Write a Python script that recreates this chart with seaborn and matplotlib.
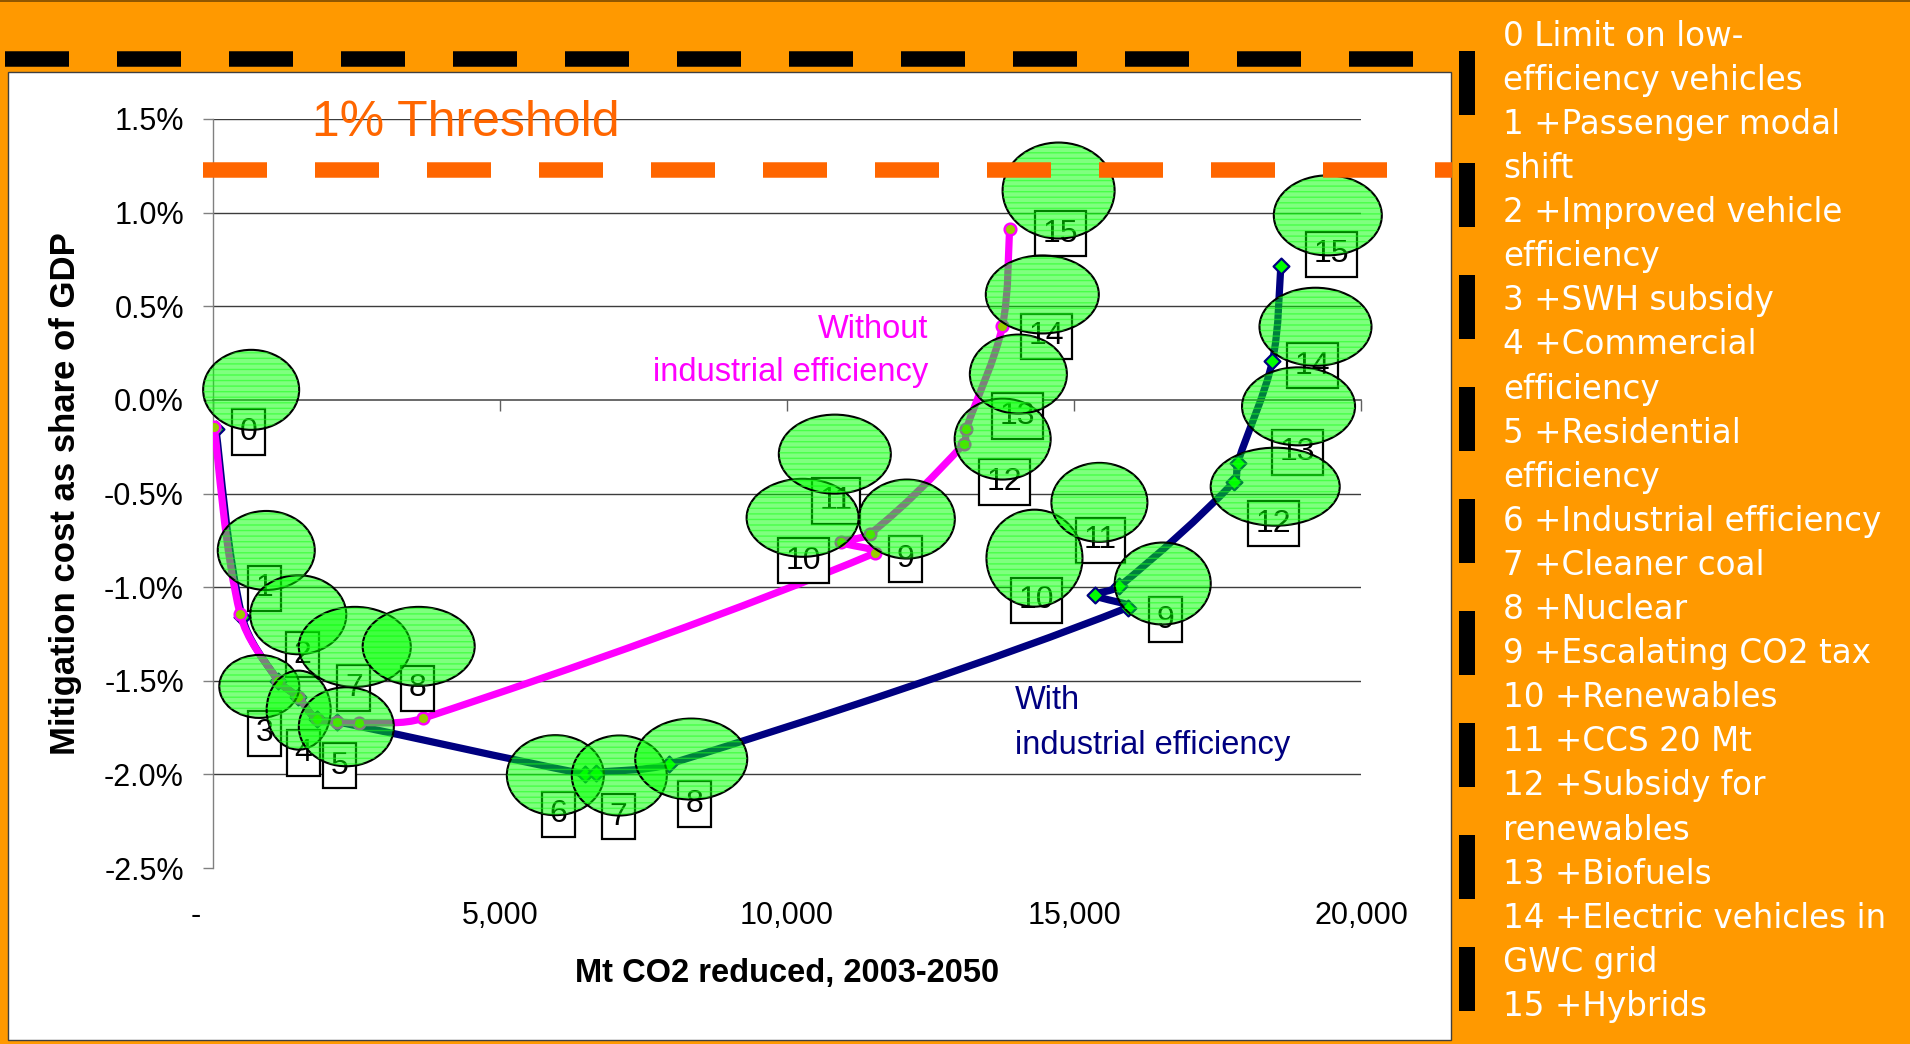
import numpy as np
import pandas as pd
import matplotlib
matplotlib.use("Agg")
import matplotlib.pyplot as plt
import seaborn as sns
from matplotlib.path import Path
from matplotlib.patches import PathPatch, Ellipse, Rectangle
from matplotlib.lines import Line2D
import matplotlib.transforms as mtransforms

# ---------------- data ----------------
measures = [
    "Limit on low-\nefficiency vehicles",
    "+Passenger modal\nshift",
    "+Improved vehicle\nefficiency",
    "+SWH subsidy",
    "+Commercial\nefficiency",
    "+Residential\nefficiency",
    "+Industrial efficiency",
    "+Cleaner coal",
    "+Nuclear",
    "+Escalating CO2 tax",
    "+Renewables",
    "+CCS 20 Mt",
    "+Subsidy for\nrenewables",
    "+Biofuels",
    "+Electric vehicles in\nGWC grid",
    "+Hybrids",
]

# cumulative package without measure 6 (industrial efficiency)
without_steps = [0, 1, 2, 3, 4, 5, 7, 8, 9, 10, 11, 12, 13, 14, 15]
without_co2 = [20, 475, 1137, 1486, 1806, 2166, 2540, 3653,
               11530, 10934, 11443, 13078, 13125, 13751, 13878]
without_cost = [-0.144, -1.146, -1.500, -1.589, -1.705, -1.719, -1.725, -1.701,
                -0.818, -0.758, -0.717, -0.236, -0.156, 0.392, 0.915]

# cumulative package with industrial efficiency
with_steps = list(range(16))
with_co2 = [50, 510, 1137, 1486, 1806, 2166, 6487, 6678, 7948,
            15936, 15374, 15791, 17791, 17849, 18458, 18603]
with_cost = [-0.156, -1.160, -1.500, -1.589, -1.705, -1.719, -1.999, -1.990, -1.945,
             -1.109, -1.043, -0.996, -0.437, -0.339, 0.209, 0.713]

x_ticks = [0, 5000, 10000, 15000, 20000]
x_tick_labels = ["-", "5,000", "10,000", "15,000", "20,000"]
y_ticks = [-2.5, -2.0, -1.5, -1.0, -0.5, 0.0, 0.5, 1.0, 1.5]
grid_levels = [-2.0, -1.5, -1.0, -0.5, 0.5, 1.0, 1.5]

# ---------------- layout of the step callouts (pixels: right, down) ----------------
without_box = {0: (34, 5), 1: (24, -26), 2: (24, -26), 3: (-34, 36), 4: (-13, 34),
               5: (2, 44), 7: (-5, -35), 8: (-5, -30), 9: (31, 6), 10: (-37, 19),
               11: (-34, -33), 12: (41, 38), 13: (51, -13), 14: (44, 10), 15: (51, 5)}
without_ring = {0: (37, -37, 96, 80), 1: (26, -64, 97, 79), 2: (20, -66, 96, 79),
                3: (-39, -11, 80, 63), 4: (-18, -9, 64, 79), 5: (9, 5, 95, 79),
                7: (-4, -76, 112, 80), 8: (-4, -72, 112, 79), 9: (32, -34, 96, 79),
                10: (-38, -24, 112, 78), 11: (-35, -80, 112, 79), 12: (39, -5, 96, 81),
                13: (52, -55, 97, 79), 14: (40, -32, 113, 78), 15: (49, -38, 112, 96)}
with_box = {6: (-27, 40), 7: (22, 44), 8: (25, 40), 9: (38, 12), 10: (-59, 5),
            11: (-19, -46), 12: (39, 42), 13: (60, -11), 14: (40, 5), 15: (51, -12)}
with_ring = {6: (-30, 1, 97, 80), 7: (23, 3, 95, 80), 8: (22, -5, 112, 81),
             9: (35, -24, 96, 82), 10: (-61, -37, 96, 97), 11: (-20, -84, 96, 79),
             12: (41, 5, 129, 78), 13: (61, -57, 113, 78), 14: (43, -34, 112, 78),
             15: (47, -51, 108, 80)}

ORANGE_BG = "#FF9900"
THRESH = "#FF6600"
MAGENTA = "#FF00FF"
NAVY = "#000080"

# ---------------- style ----------------
sns.set_theme(style="white")
plt.rcParams["font.family"] = ["Liberation Sans", "DejaVu Sans"]
plt.rcParams["lines.scale_dashes"] = False
plt.rcParams["hatch.linewidth"] = 1.0

W, H, DPI = 1910, 1044, 100
fig = plt.figure(figsize=(W / DPI, H / DPI), dpi=DPI)
fig.patch.set_facecolor(ORANGE_BG)


def fx(px):
    return px / W


def fy(py):
    return 1 - py / H


# white chart area
fig.add_artist(Rectangle((fx(8), fy(1040)), fx(1451) - fx(8), fy(72) - fy(1040),
                         transform=fig.transFigure, facecolor="white",
                         edgecolor="#404040", lw=1.0, zorder=-5))

AX_L, AX_R, AX_T, AX_B = 213, 1361, 119, 868
ax = fig.add_axes([fx(AX_L), fy(AX_B), fx(AX_R) - fx(AX_L), fy(AX_T) - fy(AX_B)])
ax.set_facecolor("none")
XLIM, YLIM = (0, 20000), (-2.5, 1.5)


def smooth_path(xs, ys):
    """Smoothed line through the points: cubic Bezier segments whose tangents are
    scaled by the neighbouring segment lengths (measured on screen)."""
    pts = np.column_stack([xs, ys]).astype(float)
    scale = np.array([(AX_R - AX_L) / (XLIM[1] - XLIM[0]),
                      (AX_B - AX_T) / (YLIM[1] - YLIM[0])])
    n = len(pts)
    ext = np.vstack([pts[0], pts, pts[-1]])
    seg = np.linalg.norm(np.diff(pts, axis=0) * scale, axis=1)
    seg_ext = np.concatenate([[seg[0]], seg, [seg[-1]]])
    verts, codes = [pts[0]], [Path.MOVETO]
    for i in range(n - 1):
        p0, p1, p2, p3 = ext[i], ext[i + 1], ext[i + 2], ext[i + 3]
        d01, d12, d23 = seg_ext[i], seg_ext[i + 1], seg_ext[i + 2]
        f1 = d12 / (d01 + d12) if (d01 + d12) > 0 else 0.5
        f2 = d12 / (d12 + d23) if (d12 + d23) > 0 else 0.5
        c1 = p1 + (p2 - p0) * f1 / 3
        c2 = p2 - (p3 - p1) * f2 / 3
        verts += [c1, c2, p2]
        codes += [Path.CURVE4] * 3
    return Path(verts, codes)


# gridlines
for v in grid_levels:
    ax.axhline(v, color="#3c3c3c", lw=1.0, zorder=1)

# series lines and markers
ax.add_patch(PathPatch(smooth_path(with_co2, with_cost), facecolor="none",
                       edgecolor=NAVY, lw=5.2, zorder=2, capstyle="round",
                       joinstyle="round"))
df_with = pd.DataFrame({"co2": with_co2, "cost": with_cost})
sns.scatterplot(data=df_with, x="co2", y="cost", marker="D", s=65, color="#00FF00",
                edgecolor=NAVY, linewidth=1.6, ax=ax, zorder=3, legend=False)

ax.add_patch(PathPatch(smooth_path(without_co2, without_cost), facecolor="none",
                       edgecolor=MAGENTA, lw=5.2, zorder=4, capstyle="round",
                       joinstyle="round"))
df_without = pd.DataFrame({"co2": without_co2, "cost": without_cost})
sns.scatterplot(data=df_without, x="co2", y="cost", marker="o", s=70, color="#99CC00",
                edgecolor=MAGENTA, linewidth=1.8, ax=ax, zorder=5, legend=False)


def callouts(steps, xs, ys, boxes, rings):
    for st, x, y in zip(steps, xs, ys):
        if st in boxes:
            dx, dy = boxes[st]
            ax.annotate(str(st), xy=(x, y), xytext=(dx, -dy), textcoords="offset pixels",
                        ha="center", va="center", fontsize=23, color="black", zorder=6,
                        annotation_clip=False,
                        bbox=dict(boxstyle="square,pad=0.24", fc="white", ec="black", lw=1.6))
        if st in rings:
            dx, dy, w, h = rings[st]
            tr = fig.dpi_scale_trans + mtransforms.ScaledTranslation(x, y, ax.transData)
            ax.add_patch(Ellipse((dx / DPI, -dy / DPI), w / DPI, h / DPI, transform=tr,
                                 facecolor=(0, 1, 0, 0.5), edgecolor="black", lw=1.5,
                                 zorder=7, clip_on=False))
            ax.add_patch(Ellipse((dx / DPI, -dy / DPI), w / DPI, h / DPI, transform=tr,
                                 fill=False, edgecolor=(0.1, 1, 0.1, 0.55), lw=0,
                                 hatch="---", zorder=7.1, clip_on=False))


callouts(with_steps, with_co2, with_cost, with_box, with_ring)
callouts(without_steps, without_co2, without_cost, without_box, without_ring)

# axes
ax.set_xlim(*XLIM)
ax.set_ylim(*YLIM)
for s in ("top", "right"):
    ax.spines[s].set_visible(False)
ax.spines["left"].set_color("#808080")
ax.spines["left"].set_linewidth(1.0)
ax.spines["bottom"].set_position(("data", 0))
ax.spines["bottom"].set_color("#505050")
ax.spines["bottom"].set_linewidth(1.2)

ax.set_yticks(y_ticks)
ax.set_yticklabels([f"{v:.1f}%" for v in y_ticks])
ax.tick_params(axis="y", direction="out", length=7.2, width=1, color="#808080",
               labelsize=22, pad=13.7, labelcolor="black", left=True)
ax.set_xticks(x_ticks)
ax.tick_params(axis="x", direction="out", length=8, width=1, color="#606060",
               labelbottom=False, bottom=True)

sec = ax.secondary_xaxis("bottom")
sec.set_xticks(x_ticks, labels=x_tick_labels)
sec.tick_params(length=0, labelsize=22, pad=24, labelcolor="black")
sec.spines["bottom"].set_visible(False)
zero_lbl = sec.get_xticklabels()[0]
zero_lbl.set_transform(zero_lbl.get_transform()
                       + mtransforms.ScaledTranslation(-0.17, 0, fig.dpi_scale_trans))

ax.set_ylabel("Mitigation cost as share of GDP", fontsize=25, fontweight="bold",
              color="black")
ax.yaxis.set_label_coords((82 - AX_L) / (AX_R - AX_L), 0.5)
ax.set_xlabel("Mt CO2 reduced, 2003-2050", fontsize=23.5, fontweight="bold",
              color="black")
ax.xaxis.set_label_coords(0.5, (AX_B - 958) / (AX_B - AX_T))

# series captions
fig.text(fx(928), fy(338), "Without", ha="right", va="baseline", color=MAGENTA, fontsize=23.5)
fig.text(fx(928), fy(381), "industrial efficiency", ha="right", va="baseline",
         color=MAGENTA, fontsize=23.5)
fig.text(fx(1015), fy(709), "With", ha="left", va="baseline", color=NAVY, fontsize=23.5)
fig.text(fx(1015), fy(754), "industrial efficiency", ha="left", va="baseline",
         color=NAVY, fontsize=23.5)


# dashed frame and threshold
def dashed(xs, ys, color, lw_px, z):
    ln = Line2D([fx(v) for v in xs], [fy(v) for v in ys], transform=fig.transFigure,
                color=color, lw=lw_px * 0.72, dash_capstyle="butt",
                linestyle=(0, (64 * 0.72, 48 * 0.72)), zorder=z)
    fig.add_artist(ln)


dashed([203, 1452], [169.5, 169.5], THRESH, 15.5, 9)
dashed([5.4, 1470], [59, 59], "black", 15.5, 10)
dashed([1467, 1467], [51, 1050], "black", 16, 10)
dashed([-3.5, -3.5], [-15, 1050], "black", 16, 10)
fig.add_artist(Line2D([0, 1], [fy(0.8), fy(0.8)], transform=fig.transFigure,
                      color="#7a4a00", lw=1.2, zorder=11))

fig.text(fx(312), fy(136.5), "1% Threshold", color=THRESH, fontsize=36,
         ha="left", va="baseline", zorder=11)

# step legend on the right
legend_lines = []
for i, m in enumerate(measures):
    parts = m.split("\n")
    legend_lines.append(f"{i} {parts[0]}")
    legend_lines.extend(parts[1:])
for k, line in enumerate(legend_lines):
    fig.text(fx(1503), fy(45.7 + k * 44.1), line, color="white", fontsize=23.5,
             family=["DejaVu Sans"], ha="left", va="baseline")

fig.savefig("out.png", dpi=DPI, facecolor=fig.get_facecolor())
